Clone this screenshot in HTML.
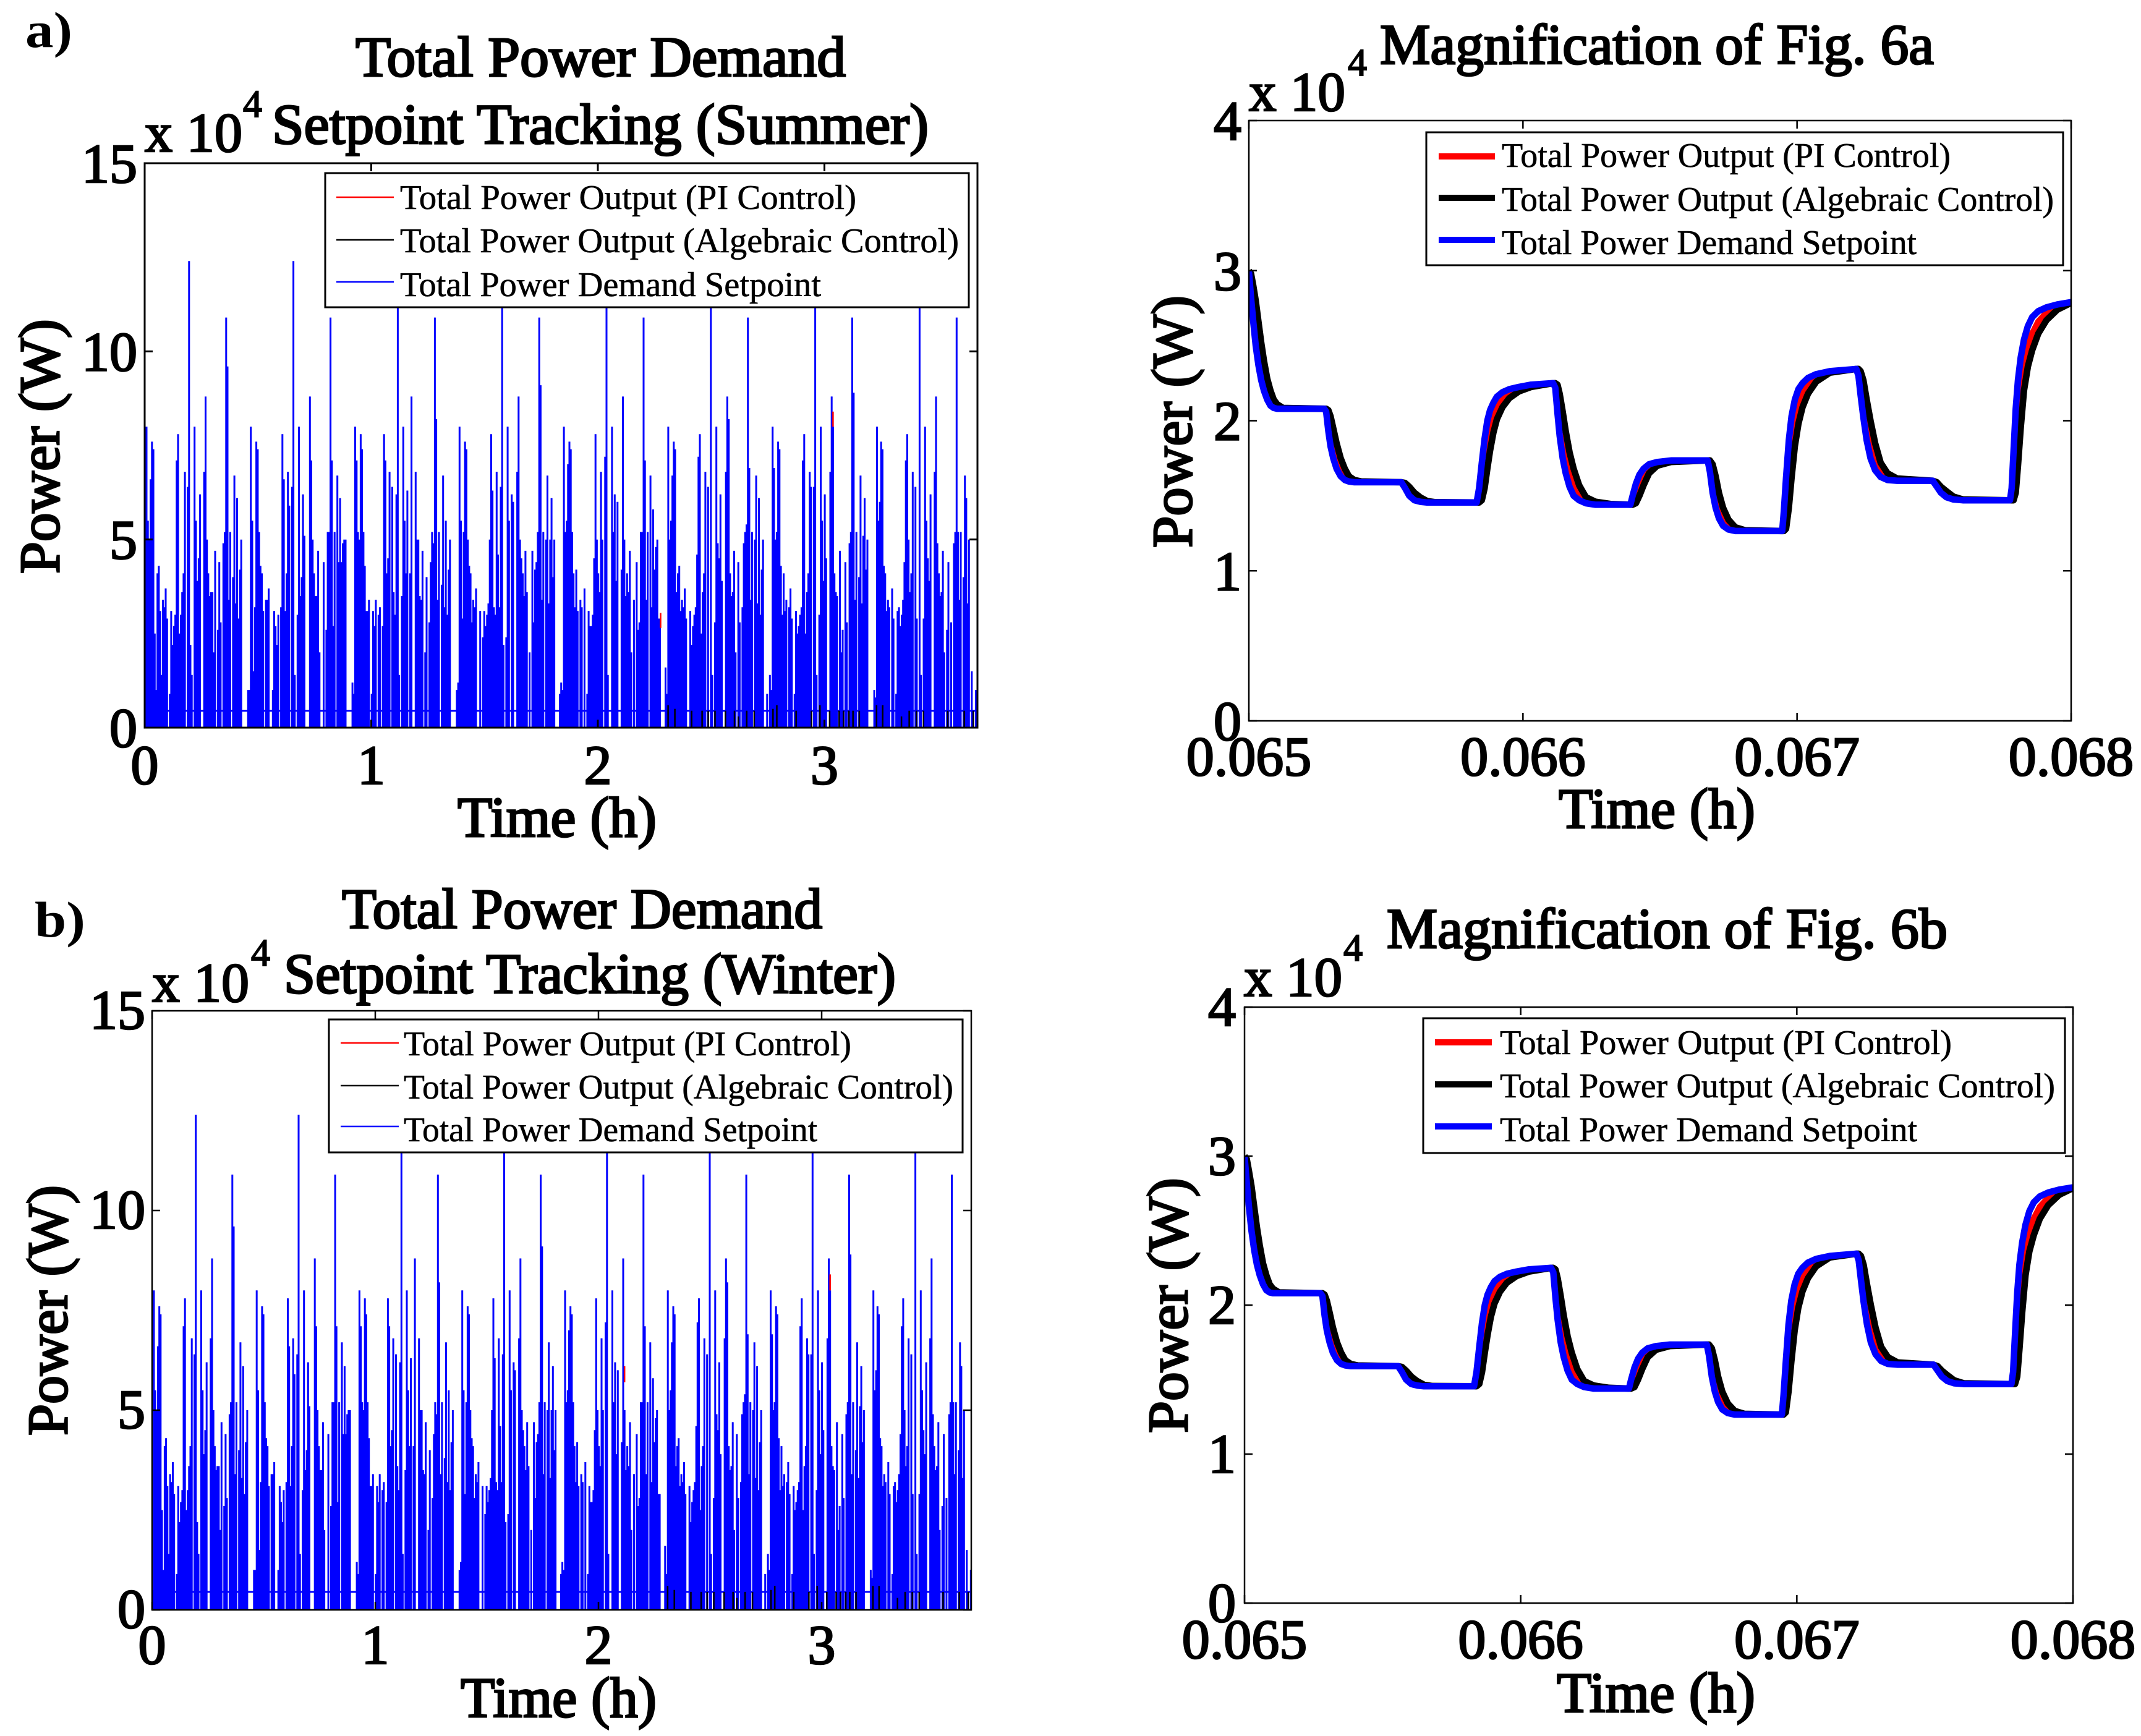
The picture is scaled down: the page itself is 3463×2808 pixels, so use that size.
<!DOCTYPE html>
<html lang="en">
<head>
<meta charset="utf-8">
<title>Total Power Demand Setpoint Tracking</title>
<style>
html,body{margin:0;padding:0;background:#fff;}
svg{display:block;}
text{font-family:"Liberation Serif",serif;fill:#000;}
.big{font-size:92px;stroke:#000;stroke-width:3px;}
.tick{font-size:90px;stroke:#000;stroke-width:2.6px;}
.sup{font-size:62px;stroke:#000;stroke-width:2px;}
.leg{font-size:56px;stroke:#000;stroke-width:.6px;}
.tag{font-size:82px;font-weight:bold;}
</style>
</head>
<body>
<svg id="figure" xmlns="http://www.w3.org/2000/svg" width="3463" height="2808" viewBox="0 0 3463 2808">
<rect width="3463" height="2808" fill="#fff"/>
<g id="layer-plots"></g>

<!-- Panel a left text -->
<text class="tag" x="41" y="76" textLength="76" lengthAdjust="spacingAndGlyphs">a)</text>
<text class="big" x="575" y="123" textLength="793" lengthAdjust="spacingAndGlyphs">Total Power Demand</text>
<text class="big" x="440" y="232" textLength="1062" lengthAdjust="spacingAndGlyphs">Setpoint Tracking (Summer)</text>
<text class="tick" x="234" y="245" textLength="158" lengthAdjust="spacingAndGlyphs">x 10</text>
<text class="sup" x="393" y="189">4</text>
<text class="big" x="740" y="1353" textLength="322" lengthAdjust="spacingAndGlyphs">Time (h)</text>
<text class="big" transform="translate(95 928) rotate(-90)" textLength="412" lengthAdjust="spacingAndGlyphs">Power (W)</text>

<!-- Panel a right text -->
<text class="big" x="2232" y="103" textLength="896" lengthAdjust="spacingAndGlyphs">Magnification of Fig. 6a</text>
<text class="tick" x="2020" y="179" textLength="156" lengthAdjust="spacingAndGlyphs">x 10</text>
<text class="sup" x="2180" y="122">4</text>
<text class="big" x="2521" y="1339" textLength="318" lengthAdjust="spacingAndGlyphs">Time (h)</text>
<text class="big" transform="translate(1927 886) rotate(-90)" textLength="408" lengthAdjust="spacingAndGlyphs">Power (W)</text>

<!-- Panel b left text -->
<text class="tag" x="56" y="1515" textLength="82" lengthAdjust="spacingAndGlyphs">b)</text>
<text class="big" x="553" y="1501" textLength="777" lengthAdjust="spacingAndGlyphs">Total Power Demand</text>
<text class="big" x="459" y="1606" textLength="990" lengthAdjust="spacingAndGlyphs">Setpoint Tracking (Winter)</text>
<text class="tick" x="246" y="1620" textLength="157" lengthAdjust="spacingAndGlyphs">x 10</text>
<text class="sup" x="406" y="1562">4</text>
<text class="big" x="745" y="2777" textLength="317" lengthAdjust="spacingAndGlyphs">Time (h)</text>
<text class="big" transform="translate(108 2322) rotate(-90)" textLength="405" lengthAdjust="spacingAndGlyphs">Power (W)</text>

<!-- Panel b right text -->
<text class="big" x="2243" y="1533" textLength="907" lengthAdjust="spacingAndGlyphs">Magnification of Fig. 6b</text>
<text class="tick" x="2012" y="1611" textLength="159" lengthAdjust="spacingAndGlyphs">x 10</text>
<text class="sup" x="2173" y="1554">4</text>
<text class="big" x="2518" y="2769" textLength="321" lengthAdjust="spacingAndGlyphs">Time (h)</text>
<text class="big" transform="translate(1920 2318) rotate(-90)" textLength="413" lengthAdjust="spacingAndGlyphs">Power (W)</text>

<!-- Legends -->
<g>
<rect x="526" y="280" width="1041" height="217" fill="#fff" stroke="#000" stroke-width="3"/>
<line x1="544" x2="637" y1="319" y2="319" stroke="#f00" stroke-width="2.5"/>
<line x1="544" x2="637" y1="388" y2="388" stroke="#000" stroke-width="2.5"/>
<line x1="544" x2="637" y1="456" y2="456" stroke="#00f" stroke-width="2.5"/>
<text class="leg" x="647" y="338" textLength="738" lengthAdjust="spacingAndGlyphs">Total Power Output (PI Control)</text>
<text class="leg" x="647" y="408" textLength="904" lengthAdjust="spacingAndGlyphs">Total Power Output (Algebraic Control)</text>
<text class="leg" x="647" y="479" textLength="681" lengthAdjust="spacingAndGlyphs">Total Power Demand Setpoint</text>
</g>
<g>
<rect x="2307" y="214" width="1030" height="215" fill="#fff" stroke="#000" stroke-width="3"/>
<line x1="2327" x2="2418" y1="253" y2="253" stroke="#f00" stroke-width="10"/>
<line x1="2327" x2="2418" y1="320" y2="320" stroke="#000" stroke-width="10"/>
<line x1="2327" x2="2418" y1="388" y2="388" stroke="#00f" stroke-width="10"/>
<text class="leg" x="2429" y="270" textLength="726" lengthAdjust="spacingAndGlyphs">Total Power Output (PI Control)</text>
<text class="leg" x="2429" y="341" textLength="893" lengthAdjust="spacingAndGlyphs">Total Power Output (Algebraic Control)</text>
<text class="leg" x="2429" y="411" textLength="671" lengthAdjust="spacingAndGlyphs">Total Power Demand Setpoint</text>
</g>
<g>
<rect x="532" y="1649" width="1025" height="215" fill="#fff" stroke="#000" stroke-width="3"/>
<line x1="551" x2="645" y1="1687" y2="1687" stroke="#f00" stroke-width="2.5"/>
<line x1="551" x2="645" y1="1756" y2="1756" stroke="#000" stroke-width="2.5"/>
<line x1="551" x2="645" y1="1822" y2="1822" stroke="#00f" stroke-width="2.5"/>
<text class="leg" x="653" y="1707" textLength="724" lengthAdjust="spacingAndGlyphs">Total Power Output (PI Control)</text>
<text class="leg" x="653" y="1777" textLength="889" lengthAdjust="spacingAndGlyphs">Total Power Output (Algebraic Control)</text>
<text class="leg" x="653" y="1846" textLength="669" lengthAdjust="spacingAndGlyphs">Total Power Demand Setpoint</text>
</g>
<g>
<rect x="2302" y="1647" width="1038" height="218" fill="#fff" stroke="#000" stroke-width="3"/>
<line x1="2321" x2="2413" y1="1686" y2="1686" stroke="#f00" stroke-width="10"/>
<line x1="2321" x2="2413" y1="1754" y2="1754" stroke="#000" stroke-width="10"/>
<line x1="2321" x2="2413" y1="1822" y2="1822" stroke="#00f" stroke-width="10"/>
<text class="leg" x="2426" y="1705" textLength="731" lengthAdjust="spacingAndGlyphs">Total Power Output (PI Control)</text>
<text class="leg" x="2426" y="1775" textLength="898" lengthAdjust="spacingAndGlyphs">Total Power Output (Algebraic Control)</text>
<text class="leg" x="2426" y="1846" textLength="675" lengthAdjust="spacingAndGlyphs">Total Power Demand Setpoint</text>
</g>
</svg>

<script>
/* Long-horizon demand, x 10^4 W, one value per sampling step */
const demandStepHours = 0.00606;
const baseloadPower = 0.45;
const demandPower = [
.5,8,5.5,5,6.6,7.6,7.4,2.5,1,4.1,4.3,3.1,1.4,3.4,3.2,3.7,2.9,.3,.9,3.1,2.2,2.7,3,7.1,7.8,2.5,3,3.6,4.1,6.8,.4,6.4,12.4,2.2,1.4,.4,8,5.5,3.9,4.5,6.2,.4,.4,6.8,8.8,5,4.1,3.5,3.6,3.6,2,4.7,.4,2.6,4.4,2.8,.4,4.9,5.2,10.9,9.6,3.4,5.2,.4,4,6.7,3.3,6.1,2.9,4.2,5,.4,.4,.4,.4,1,
1,8,5.5,1.5,3.2,7.6,7.4,5.2,4.3,4.1,3.1,.4,3.4,3.4,3.7,.4,.4,1,3.1,2.7,2.2,3,.4,3.2,7.8,6.6,3.1,4.1,6.8,5.9,.4,6.4,12.4,1.4,.4,3,8,3.5,4,6.2,5.1,.4,.4,.4,8.8,7.1,5,4.1,3.5,3.5,4.7,2,.4,.4,4.4,.4,2.6,5.2,5.2,10.9,7.1,2.7,5.2,.4,6.7,4.4,6.1,4.4,4.9,5,5,.4,.4,.4,.4,1.2,
.9,8,7.1,5.2,5,7.8,7.4,5.2,4.3,3.1,3.1,3.4,.4,.9,3.1,2.7,3.4,.4,3,3.2,.4,2.7,7.8,7.1,4.1,4.5,6.8,.4,6.4,3.6,3,6.2,12.4,1.4,.4,3.5,8,5.5,4.1,6.3,.4,4.1,8.8,.4,.4,6.8,5,5,3.5,3.4,4.7,.4,2,4,.4,2.8,4.4,5.2,4.9,10.9,8.2,3.4,5.2,.4,3.8,6.7,3.2,5.5,3,4.2,5,.4,.4,.4,.4,1,
1.2,8,5.5,2.9,5.2,7.6,7.4,5,4.3,4.1,2.8,3.4,3.2,3.7,.4,.4,3.1,.4,2.4,3.1,2.7,3,3.3,5,7.8,6.3,3.2,3,6.8,4.6,3.2,6.4,12.4,2.2,.4,2.4,8,5.5,.4,6.2,6,.4,.4,6.8,8.8,5,4.5,4.1,3.5,4.7,3.6,.4,2,.4,4.7,2.8,4.2,4.4,5.2,10.9,9.1,3.4,5.2,.4,5,6.7,3.3,5,6.1,4,5,.4,.4,.4,.9,1.2,
1,8,5.2,5.5,7,7.6,7.4,5.2,4.1,3.2,4.2,3.1,.4,3.4,3.2,.4,3.7,.4,.9,3.1,2.7,2.7,3,4.5,7.8,5,4.1,3.6,6.8,5,.4,7.2,12.4,1.4,.4,.4,8,5.2,6.2,3.9,6,.4,.4,4.2,8.8,5,3.5,4.1,3.6,4.7,2,.4,3.4,.4,4.4,2.6,2.8,5.2,5.2,10.9,7.1,3.4,5.2,.4,6.7,3.2,5.8,4.2,4.8,5,2.9,2.9,.4,.4,.4,1.6,
.9,8,5,5.5,6.7,7.6,7.4,3.6,4.1,4.3,3.1,3.4,3.2,3.7,2.9,.4,.4,3.1,2.2,2.7,3,3.2,4.6,7.2,7.8,2.5,3.6,4.1,6.8,.4,6.4,.4,12.4,1.4,.4,2.8,8,4.9,4.5,6.2,3.9,.4,.4,6.8,8.8,8.2,4.1,3.5,3.6,4.7,2,.4,4.4,2.8,.4,3.2,4.9,5.2,5.4,10.9,6.9,3.4,5.2,.4,5,6.7,3.3,6.1,3,4.2,5,.4,.4,.9,.4,1.4,
1,8,6.9,5,5.2,7.6,7.4,4.3,3,4.1,3.1,3.4,.4,3.2,3.7,2.9,.4,.9,3.1,2.5,2.7,3,3.2,7.1,7.8,2.5,3.6,4.1,6.8,6.4,.4,6.4,12.4,1.4,.4,3,8,5.5,3.9,6.2,4.5,.4,.4,6.8,8.8,8,4.1,3.6,3.5,.4,4.7,2,2.6,.4,4.4,2.8,.4,4.9,5.2,10.9,8.9,3.4,5.2,.4,4,6.7,3.3,5.1,6.1,4.2,5,.4,.4,.4,.4,1,
.8,8,5.5,6,7.6,7.4,4.3,4.1,3.1,3.4,3.2,.4,3.7,2.9,.4,.9,3.1,3.2,2.7,3,3.4,4.4,7.1,7.8,5,3.6,4.1,6.8,.4,6.4,2.9,.4,12.4,1.4,.4,2.9,8,5.5,4.5,3.9,6.2,.4,.4,6.8,8.8,4.9,4.1,3.5,3.6,4.7,2,.4,2.6,4.4,.4,2.8,.4,4.9,5.2,10.9,5.2,3.4,5.2,.4,4,6.7,6.1,3.3,5,.4,1.5,.4,.4,1,.4
];
const algebraicHours = [2.31,2.34,2.414,2.46,2.487,2.517,2.563,2.603,2.62,2.657,2.69,2.773,2.79,2.875,2.943,2.98,3.023,3.065,3.084,3.108,3.126,3.154,3.23,3.257,3.34,3.374,3.406,3.437,3.544,3.617,3.657];
const algebraicPower = [.6,.5,.45,.45,.45,.45,.45,.45,.3,.45,.45,.5,.6,.45,.45,.6,.45,.45,.45,.45,.45,.45,.6,.6,.3,.45,.45,.45,.45,.45,.45];
const summerPiHours = [3.038,2.277];
const summerPiPower = [8.4,3.05];
const winterPiHours = [3.038,2.117];
const winterPiPower = [8.4,6.1];

/* Magnified window, x 10^4 W */
const magHours = [.065,.065008,.065016,.065025,.065035,.065045,.065055,.065067,.065079,.065091,.065103,.065125,.065275,
.065282,.06529,.065298,.065308,.06532,.065335,.06535,.065365,.065385,.06541,.065556,
.06557,.065585,.065604,.065625,.06565,.06568,.065831,
.06584,.06585,.06586,.06587,.06588,.065892,.065905,.065925,.06595,.065985,.06603,.06611,
.066118,.066126,.066134,.066145,.066156,.06617,.066185,.066205,.06623,.066265,.06632,.066392,
.0664,.066412,.066425,.06644,.06646,.06649,.06654,.066674,
.066682,.066692,.066703,.066715,.06673,.06675,.066775,.06681,.066946,
.066952,.06696,.06697,.06698,.066992,.067005,.06702,.06704,.06707,.06712,.067216,
.067224,.067232,.067242,.067254,.067268,.067285,.067305,.06733,.067365,.067495,
.06751,.067525,.067545,.06757,.067605,.067777,
.067783,.06779,.067798,.067806,.067816,.067828,.067842,.067858,.06788,.06791,.06795,.068];
const magSetpointPower = [3,2.82,2.66,2.5,2.37,2.27,2.2,2.14,2.1,2.085,2.08,2.08,2.08,
2.06,1.93,1.83,1.75,1.68,1.63,1.605,1.595,1.59,1.59,1.59,
1.55,1.5,1.47,1.46,1.455,1.455,1.455,
1.55,1.72,1.88,2,2.07,2.12,2.16,2.19,2.21,2.225,2.24,2.25,
2.22,2.05,1.9,1.75,1.65,1.56,1.5,1.47,1.45,1.44,1.44,1.44,
1.5,1.58,1.64,1.68,1.71,1.725,1.735,1.735,
1.66,1.52,1.42,1.35,1.3,1.275,1.265,1.265,1.265,
1.4,1.62,1.87,2.03,2.14,2.21,2.25,2.285,2.31,2.33,2.345,
2.3,2.17,2.02,1.87,1.75,1.67,1.625,1.605,1.6,1.6,
1.56,1.52,1.49,1.475,1.47,1.47,
1.55,1.8,2.08,2.27,2.42,2.54,2.63,2.69,2.73,2.755,2.775,2.79];
const magAlgebraicPower = [3,2.98,2.9,2.8,2.66,2.52,2.4,2.28,2.2,2.14,2.11,2.085,2.08,
2.08,2.07,2.03,1.95,1.85,1.75,1.68,1.63,1.605,1.595,1.59,
1.585,1.56,1.52,1.49,1.465,1.457,1.455,
1.455,1.47,1.55,1.68,1.8,1.92,2.01,2.09,2.15,2.195,2.225,2.25,
2.25,2.24,2.18,2.06,1.93,1.79,1.68,1.57,1.49,1.46,1.445,1.44,
1.44,1.45,1.5,1.57,1.65,1.7,1.725,1.735,
1.735,1.71,1.63,1.52,1.42,1.34,1.29,1.27,1.265,
1.265,1.28,1.42,1.62,1.83,1.98,2.09,2.18,2.26,2.32,2.345,
2.345,2.33,2.27,2.14,2,1.85,1.72,1.65,1.615,1.6,
1.59,1.56,1.53,1.495,1.475,1.47,
1.47,1.47,1.52,1.7,1.95,2.2,2.36,2.47,2.58,2.67,2.74,2.785];
const magPiPower = [3,2.92,2.78,2.65,2.5,2.39,2.3,2.21,2.15,2.11,2.09,2.08,2.08,
2.07,2.02,1.94,1.85,1.76,1.68,1.63,1.61,1.595,1.59,1.59,
1.57,1.53,1.49,1.47,1.46,1.455,1.455,
1.48,1.58,1.72,1.86,1.96,2.04,2.1,2.15,2.19,2.215,2.235,2.25,
2.24,2.17,2.04,1.89,1.77,1.66,1.58,1.51,1.465,1.45,1.44,1.44,
1.45,1.5,1.57,1.63,1.68,1.715,1.73,1.735,
1.71,1.62,1.52,1.43,1.35,1.3,1.275,1.265,1.265,
1.29,1.42,1.65,1.84,2.01,2.12,2.19,2.25,2.295,2.325,2.345,
2.335,2.27,2.15,2,1.86,1.75,1.66,1.62,1.605,1.6,
1.58,1.54,1.505,1.48,1.47,1.47,
1.48,1.58,1.8,2,2.2,2.37,2.5,2.58,2.66,2.72,2.76,2.79];

/* Tick labels */
const longXTicks = [0,1,2,3];
const longYTicks = [0,5,10,15];
const magXTicks = [0.065,0.066,0.067,0.068];
const magYTicks = [0,1,2,3,4];

const NS = 'http://www.w3.org/2000/svg';
const layer = document.getElementById('layer-plots');

function make(tag, attrs, parent){
  const el = document.createElementNS(NS, tag);
  for (const k in attrs) el.setAttribute(k, attrs[k]);
  parent.appendChild(el);
  return el;
}

function drawFrame(g, box, xs, ys, xTicks, yTicks, xFmt, opts, prefix){
  const sw = opts.frame;
  const frame = make('rect', {x:box.l, y:box.t, width:box.r-box.l, height:box.b-box.t, fill:'none', stroke:'#000', 'stroke-width':sw}, g);
  
  
  let d = '';
  xTicks.forEach(function(v){
    const x = xs(v);
    d += 'M' + x + ' ' + box.b + 'V' + (box.b - 13) + 'M' + x + ' ' + box.t + 'V' + (box.t + 13);
  });
  yTicks.forEach(function(v){
    const y = ys(v);
    d += 'M' + box.l + ' ' + y + 'H' + (box.l + 13) + 'M' + box.r + ' ' + y + 'H' + (box.r - 13);
  });
  const marks = make('path', {d:d, fill:'none', stroke:'#000', 'stroke-width':sw}, g);
  
  
  xTicks.forEach(function(v){
    const label = make('text', {x:xs(v), y:box.b + opts.xBase, 'text-anchor':'middle', class:'tick'}, g);
    
    
    label.textContent = xFmt(v);
  });
  yTicks.forEach(function(v){
    const label = make('text', {x:box.l - opts.yGap, y:ys(v) + opts.yBase, 'text-anchor':'end', class:'tick'}, g);
    
    
    label.textContent = String(v);
  });
}

function clipFor(g, box, id){
  const cp = make('clipPath', {id:id}, g);
  make('rect', {x:box.l, y:box.t, width:box.r-box.l, height:box.b-box.t}, cp);
}

function drawLongPanel(prefix, box, hourPx, piHours, piPower, opts){
  const xs = function(h){ return box.l + h * hourPx; };
  const ys = function(p){ return box.b - p * (box.b - box.t) / 15; };
  const g = make('g', {}, layer);
  
  
  clipFor(g, box, prefix + '-clip');
  const plot = make('g', {'clip-path':'url(#' + prefix + '-clip)'}, g);

  let columns = '';
  demandPower.forEach(function(p, i){
    const x = xs(i * demandStepHours + 0.002).toFixed(1);
    if (p > baseloadPower) columns += 'M' + x + ' ' + ys(0).toFixed(1) + 'V' + ys(p).toFixed(1);
  });
  const setpoint = make('path', {d:columns, fill:'none', stroke:'#0000ff', 'stroke-width':3}, plot);
  
  

  const base = make('line', {x1:box.l, x2:box.r, y1:ys(baseloadPower), y2:ys(baseloadPower), stroke:'#0000ff', 'stroke-width':3}, plot);
  
  

  let black = '';
  algebraicHours.forEach(function(h, i){
    black += 'M' + xs(h).toFixed(1) + ' ' + ys(0).toFixed(1) + 'V' + ys(algebraicPower[i]).toFixed(1);
  });
  const algebraic = make('path', {d:black, fill:'none', stroke:'#000', 'stroke-width':2.5}, plot);
  
  

  let red = '';
  piHours.forEach(function(h, i){
    red += 'M' + xs(h).toFixed(1) + ' ' + ys(piPower[i] - 0.4).toFixed(1) + 'V' + ys(piPower[i]).toFixed(1);
  });
  const pi = make('path', {d:red, fill:'none', stroke:'#f00', 'stroke-width':2.5}, plot);
  
  

  drawFrame(g, box, xs, ys, longXTicks, longYTicks, String, opts, prefix);
}

function drawMagPanel(prefix, box, opts){
  const xs = function(h){ return box.l + (h - 0.065) * (box.r - box.l) / 0.003; };
  const ys = function(p){ return box.b - p * (box.b - box.t) / 4; };
  const g = make('g', {}, layer);
  
  
  clipFor(g, box, prefix + '-clip');
  const plot = make('g', {'clip-path':'url(#' + prefix + '-clip)'}, g);

  function curve(values, color, width, name){
    const pts = values.map(function(p, i){ return xs(magHours[i]).toFixed(1) + ',' + ys(p).toFixed(1); }).join(' ');
    const line = make('polyline', {points:pts, fill:'none', stroke:color, 'stroke-width':width, 'stroke-linejoin':'round', 'stroke-linecap':'butt'}, plot);
    
    
  }
  curve(magPiPower, '#f00', 10, prefix + '-pi-series');
  curve(magAlgebraicPower, '#000', 10.5, prefix + '-algebraic-series');
  curve(magSetpointPower, '#0000ff', 10.5, prefix + '-setpoint-series');

  drawFrame(g, box, xs, ys, magXTicks, magYTicks, function(v){ return v.toFixed(3); }, opts, prefix);
}

drawLongPanel('summer', {l:234, r:1581, t:264, b:1177}, 366.5, summerPiHours, summerPiPower, {frame:3, xBase:91, yBase:31, yGap:12});
drawMagPanel('mag-a', {l:2020, r:3350, t:195, b:1166}, {frame:2.5, xBase:88, yBase:31, yGap:12});
drawLongPanel('winter', {l:246, r:1571, t:1635, b:2604}, 361, winterPiHours, winterPiPower, {frame:2.5, xBase:87, yBase:29, yGap:11});
drawMagPanel('mag-b', {l:2013, r:3353, t:1629, b:2593}, {frame:2.5, xBase:89, yBase:30, yGap:14});
</script>
</body>
</html>
